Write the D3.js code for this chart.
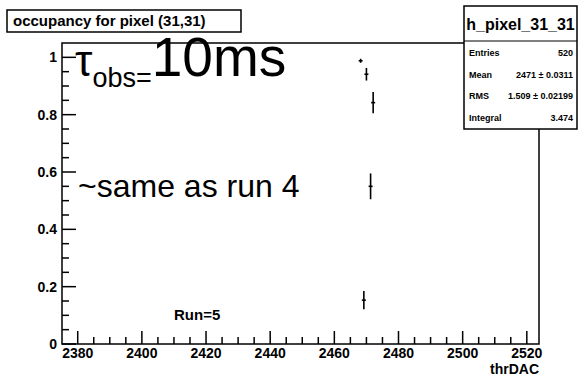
<!DOCTYPE html>
<html>
<head>
<meta charset="utf-8">
<script src="https://cdn.jsdelivr.net/npm/d3@7"></script>
<style>
  body { margin: 0; background: #fff; }
  text { font-family: "Liberation Sans", Arial, Helvetica, sans-serif; }
</style>
</head>
<body>
<div id="chart"></div>
<script>
// bins of the histogram (thrDAC) with occupancy and error
const thrDAC = [2468.2, 2469.2, 2470.0, 2471.3, 2472.1];
const occupancy = [0.988, 0.153, 0.941, 0.55, 0.842];
const occErr = [0.007, 0.032, 0.022, 0.045, 0.037];

const xTicks = [2380, 2400, 2420, 2440, 2460, 2480, 2500, 2520];
const yTicks = [0, 0.2, 0.4, 0.6, 0.8, 1];

const statNames = ["Entries", "Mean", "RMS", "Integral"];
const statValues = ["520", "2471 \u00b1 0.0311", "1.509 \u00b1 0.02199", "3.474"];

const W = 579, H = 376;
const frame = { left: 62, right: 539, top: 43, bottom: 344 };

const svg = d3.select("#chart").append("svg")
  .attr("width", W).attr("height", H);

const x = d3.scaleLinear().domain([2375.1, 2523.8]).range([frame.left, frame.right]);
const y = d3.scaleLinear().domain([0, 1.05]).range([frame.bottom, frame.top]);

// frame
svg.append("rect")
  .attr("x", frame.left).attr("y", frame.top)
  .attr("width", frame.right - frame.left).attr("height", frame.bottom - frame.top)
  .attr("fill", "none").attr("stroke", "#000").attr("stroke-width", 1.5);

// x axis: major ticks inward, minor every 5
const xAxis = svg.append("g").attr("transform", `translate(0,${frame.bottom})`);
xAxis.selectAll("line.minor")
  .data(d3.range(2380, 2524, 5))
  .enter().append("line")
  .attr("x1", d => x(d)).attr("x2", d => x(d))
  .attr("y1", 0).attr("y2", d => d % 20 === 0 ? -13 : -7)
  .attr("stroke", "#000").attr("stroke-width", 1.5);
xAxis.selectAll("text")
  .data(xTicks)
  .enter().append("text")
  .attr("x", d => x(d)).attr("y", 14)
  .attr("text-anchor", "middle")
  .attr("font-size", 14).attr("font-weight", "bold")
  .text(d => d);

svg.append("text")
  .attr("x", frame.right).attr("y", 374)
  .attr("text-anchor", "end")
  .attr("font-size", 14).attr("font-weight", "bold")
  .text("thrDAC");

// y axis
const yAxis = svg.append("g").attr("transform", `translate(${frame.left},0)`);
yAxis.selectAll("line")
  .data(d3.range(0, 21).map(i => i * 0.05))
  .enter().append("line")
  .attr("y1", d => y(d)).attr("y2", d => y(d))
  .attr("x1", 0).attr("x2", (d, i) => i % 4 === 0 ? 14 : 7)
  .attr("stroke", "#000").attr("stroke-width", 1.5);
yAxis.selectAll("text")
  .data(yTicks)
  .enter().append("text")
  .attr("x", -5).attr("y", d => y(d) + 5)
  .attr("text-anchor", "end")
  .attr("font-size", 14).attr("font-weight", "bold")
  .text(d => d === 0 ? "0" : d3.format("~g")(d));

// data points with error bars
const pts = svg.append("g");
thrDAC.forEach((t, i) => {
  pts.append("line")
    .attr("x1", x(t)).attr("x2", x(t))
    .attr("y1", y(occupancy[i] - occErr[i])).attr("y2", y(occupancy[i] + occErr[i]))
    .attr("stroke", "#000").attr("stroke-width", 1.6);
  pts.append("line")
    .attr("x1", x(t) - 2).attr("x2", x(t) + 2)
    .attr("y1", y(occupancy[i])).attr("y2", y(occupancy[i]))
    .attr("stroke", "#000").attr("stroke-width", 1.6);
});

// annotations
const tau = svg.append("text").attr("x", 75).attr("y", 76);
tau.append("tspan").attr("font-size", 44).text("\u03c4");
tau.append("tspan").attr("font-size", 27).attr("dy", 11).text("obs=");
tau.append("tspan").attr("font-size", 55).attr("dy", -11).text("10ms");

svg.append("text")
  .attr("x", 78).attr("y", 197)
  .attr("font-size", 32)
  .text("~same as run 4");

svg.append("text")
  .attr("x", 174).attr("y", 320)
  .attr("font-size", 15).attr("font-weight", "bold")
  .text("Run=5");

// title box
svg.append("rect")
  .attr("x", 7).attr("y", 10).attr("width", 234).attr("height", 22)
  .attr("fill", "#fff").attr("stroke", "#000").attr("stroke-width", 1.5);
svg.append("text")
  .attr("x", 13).attr("y", 26)
  .attr("font-size", 15).attr("font-weight", "bold")
  .text("occupancy for pixel (31,31)");

// stats box
const sb = { x: 464, y: 6, w: 113, h: 123, head: 35 };
svg.append("rect")
  .attr("x", sb.x).attr("y", sb.y).attr("width", sb.w).attr("height", sb.h)
  .attr("fill", "#fff").attr("stroke", "#000").attr("stroke-width", 1.5);
svg.append("line")
  .attr("x1", sb.x).attr("x2", sb.x + sb.w)
  .attr("y1", sb.y + sb.head).attr("y2", sb.y + sb.head)
  .attr("stroke", "#000").attr("stroke-width", 1.2);
svg.append("text")
  .attr("x", sb.x + sb.w / 2).attr("y", sb.y + 24)
  .attr("text-anchor", "middle")
  .attr("font-size", 16).attr("font-weight", "bold")
  .text("h_pixel_31_31");
statNames.forEach((n, i) => {
  const yy = sb.y + sb.head + 15 + i * 21.5;
  svg.append("text").attr("x", sb.x + 5).attr("y", yy)
    .attr("font-size", 9).attr("font-weight", "bold").text(n);
  svg.append("text").attr("x", sb.x + sb.w - 4).attr("y", yy)
    .attr("text-anchor", "end")
    .attr("font-size", 9).attr("font-weight", "bold").text(statValues[i]);
});
</script>
</body>
</html>
